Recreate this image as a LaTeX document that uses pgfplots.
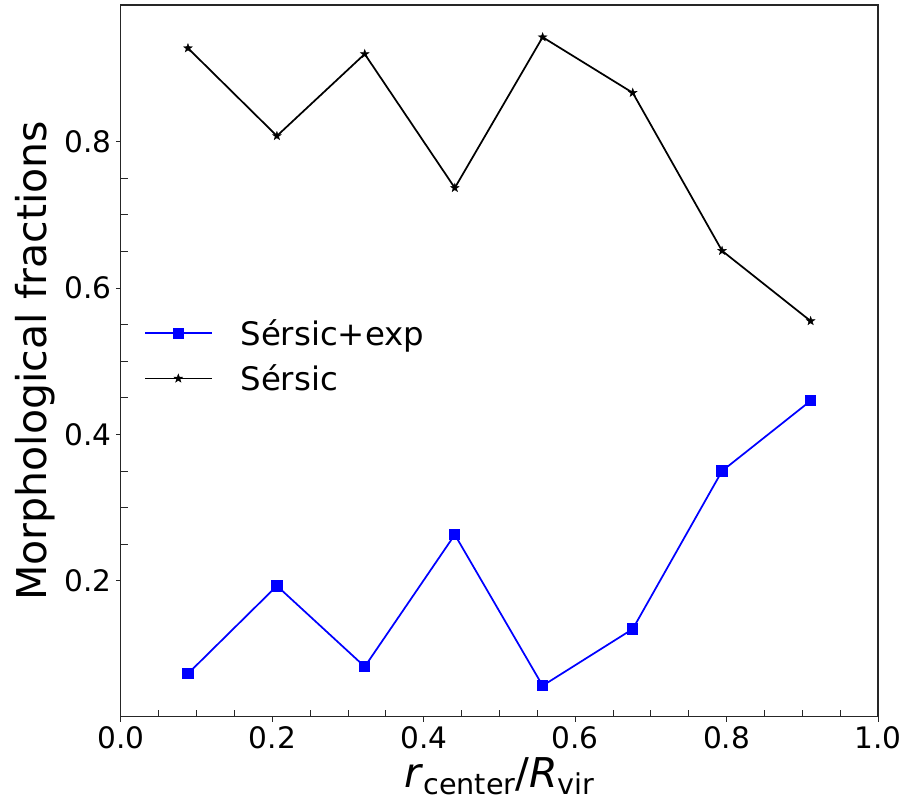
\documentclass[border=0pt]{standalone}
\usepackage{pgfplots}
\pgfplotsset{compat=1.18}
\usepackage{fontspec}
\setmainfont{DejaVu Sans}
\pgfdeclareplotmark{fstar}{%
  \pgfpathmoveto{\pgfpointpolar{90}{\pgfplotmarksize}}%
  \pgfpathlineto{\pgfpointpolar{126}{0.40\pgfplotmarksize}}%
  \pgfpathlineto{\pgfpointpolar{162}{\pgfplotmarksize}}%
  \pgfpathlineto{\pgfpointpolar{198}{0.40\pgfplotmarksize}}%
  \pgfpathlineto{\pgfpointpolar{234}{\pgfplotmarksize}}%
  \pgfpathlineto{\pgfpointpolar{270}{0.40\pgfplotmarksize}}%
  \pgfpathlineto{\pgfpointpolar{306}{\pgfplotmarksize}}%
  \pgfpathlineto{\pgfpointpolar{342}{0.40\pgfplotmarksize}}%
  \pgfpathlineto{\pgfpointpolar{18}{\pgfplotmarksize}}%
  \pgfpathlineto{\pgfpointpolar{54}{0.40\pgfplotmarksize}}%
  \pgfpathclose
  \pgfusepathqfillstroke}
\begin{document}
\begin{tikzpicture}
\path[use as bounding box] (-90.75pt,-69pt) rectangle (587.5pt,537.75pt);
\begin{axis}[
  at={(0pt,0pt)}, anchor=south west,
  scale only axis, width=568pt, height=534pt,
  xmin=0, xmax=1, ymin=0.0141, ymax=0.987,
  xtick={0,0.2,0.4,0.6,0.8,1.0},
  ytick={0.2,0.4,0.6,0.8},
  minor x tick num=3, minor y tick num=3,
  tick pos=left,
  tick align=outside,
  major tick length=3.75pt, minor tick length=5pt,
  minor x tick style={yshift=5pt},
  minor y tick style={xshift=5pt},
  axis line style={line width=0.8pt, black!85},
  every tick/.style={black!85, line width=0.7pt},
  /pgf/number format/.cd, fixed, fixed zerofill, precision=1, assume math mode=true,
  /pgfplots/.cd,
  tick label style={font=\fontsize{22.2}{26}\selectfont},
  label style={font=\fontsize{30.8}{36}\selectfont},
  xlabel={\textit{r}\raisebox{-5pt}{\fontsize{21.5}{24}\selectfont center}/\textit{R}\raisebox{-5pt}{\fontsize{21.5}{24}\selectfont vir}},
  ylabel={Morphological fractions},
  legend style={at={(0.025,0.507)}, anchor=west, draw=none, fill=none,
    font=\fontsize{24.3}{28}\selectfont, row sep=9pt,
    /tikz/every odd column/.append style={column sep=19pt}},
  legend cell align=left,
  legend image code/.code={\draw[mark repeat=2,mark phase=2,#1,line width=1.3pt] plot coordinates {(0pt,0pt)(25pt,0pt)(50pt,0pt)};},
]
\addplot[blue, line width=1.3pt, mark=square*, mark size=3.6pt, mark options={solid}] coordinates {
(0.0885,0.073)(0.206,0.193)(0.322,0.0825)(0.441,0.263)(0.557,0.0565)(0.676,0.134)(0.794,0.350)(0.911,0.446)};
\addlegendentry{Sérsic+exp}
\addplot[black, line width=1.3pt, mark=fstar, mark size=3.4pt, mark options={solid, line width=0.3pt}] coordinates {
(0.0885,0.928)(0.206,0.808)(0.322,0.920)(0.441,0.737)(0.557,0.943)(0.676,0.867)(0.794,0.651)(0.911,0.555)};
\addlegendentry{Sérsic}
\end{axis}
\end{tikzpicture}
\end{document}
